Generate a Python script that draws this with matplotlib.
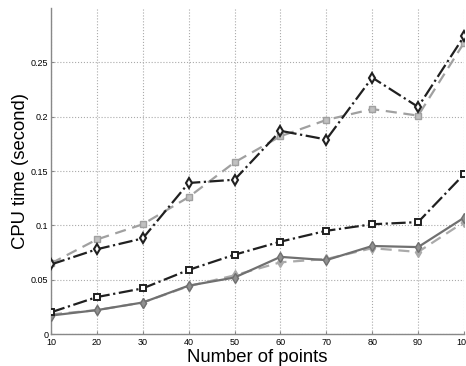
import matplotlib
matplotlib.use("Agg")
import matplotlib.pyplot as plt

x = [10, 20, 30, 40, 50, 60, 70, 80, 90, 100]
s_black_diamond = [0.064, 0.078, 0.088, 0.139, 0.142, 0.187, 0.179, 0.236, 0.209, 0.274]
s_gray_square = [0.065, 0.087, 0.101, 0.126, 0.158, 0.182, 0.197, 0.207, 0.201, 0.268]
s_black_square = [0.020, 0.034, 0.042, 0.059, 0.073, 0.085, 0.095, 0.101, 0.103, 0.147]
s_gray_solid = [0.017, 0.022, 0.029, 0.0445, 0.052, 0.071, 0.068, 0.081, 0.080, 0.107]
s_gray_light = [0.018, 0.022, 0.029, 0.044, 0.054, 0.066, 0.069, 0.079, 0.0755, 0.103]

xticks = [10, 20, 30, 40, 50, 60, 70, 80, 90, 100]
yticks = [0, 0.05, 0.1, 0.15, 0.2, 0.25]
yticklabels = ["0", "0.05", "0.1", "0.15", "0.2", "0.25"]

plt.rcParams['font.family'] = ['Liberation Sans', 'DejaVu Sans']
fig = plt.figure(figsize=(4.66, 3.66), dpi=100)
ax = fig.add_axes([0.1094, 0.0874, 0.8863, 0.8906])

ax.plot(x, s_gray_light, ls='--', color='#aaaaaa', lw=1.6, marker='d', ms=5,
        mfc='#aaaaaa', mec='#aaaaaa', dashes=(5, 3), zorder=2)
ax.plot(x, s_gray_solid, ls='-', color='#707070', lw=1.6, marker='d', ms=5,
        mfc='#909090', mec='#707070', zorder=3)
ax.plot(x, s_black_square, ls='-.', color='#202020', lw=1.6, marker='s', ms=4.5,
        mfc='white', mec='#202020', mew=1.4, zorder=4)
ax.plot(x, s_gray_square, ls='--', color='#a0a0a0', lw=1.6, marker='s', ms=4.5,
        mfc='#c0c0c0', mec='#a0a0a0', dashes=(5, 3), zorder=2)
ax.plot(x, s_black_diamond, ls='-.', color='#202020', lw=1.6, marker='d', ms=5,
        mfc='white', mec='#202020', mew=1.5, zorder=5)

ax.set_xlim(10, 100)
ax.set_ylim(0, 0.3)
ax.set_xticks(xticks)
ax.set_xticklabels([str(v) for v in xticks])
ax.set_yticks(yticks)
ax.set_yticklabels(yticklabels)
ax.tick_params(direction='in', labelsize=6.5, length=2, color='#888888')
ax.tick_params(axis='x', pad=3)
ax.tick_params(axis='y', pad=2)
ax.grid(True, ls=':', color='#aaaaaa', lw=0.8)
for side in ['top', 'right']:
    ax.spines[side].set_visible(False)
for side in ['left', 'bottom']:
    ax.spines[side].set_color('#888888')
    ax.spines[side].set_linewidth(1.0)

ax.set_xlabel('Number of points', fontsize=13.3, labelpad=1)
ax.set_ylabel('CPU time (second)', fontsize=13.3, labelpad=1)

fig.savefig('out.png', dpi=100)
